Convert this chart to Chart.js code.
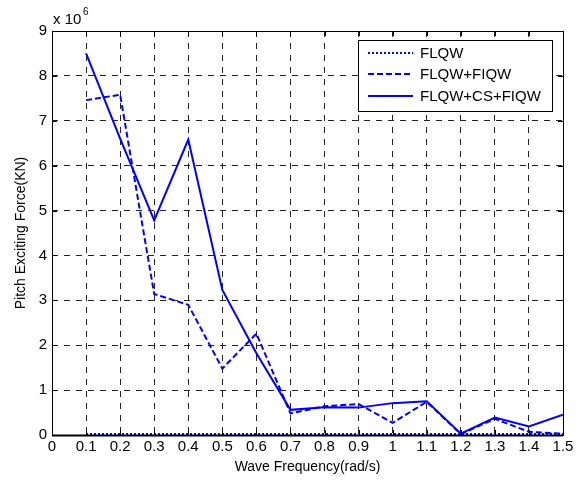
<!DOCTYPE html>
<html>
<head>
<meta charset="utf-8">
<script src="https://cdn.jsdelivr.net/npm/chart.js@4.4.0/dist/chart.umd.min.js"></script>
<style>
  html, body { margin: 0; padding: 0; background: #fff; }
  #wrap { width: 582px; height: 480px; position: relative; }
</style>
</head>
<body>
<div id="wrap"><canvas id="chart" width="582" height="480"></canvas></div>
<script>
// Wave frequency (rad/s)
const frequencies = [0.1, 0.2, 0.3, 0.4, 0.5, 0.6, 0.7, 0.8, 0.9, 1.0, 1.1, 1.2, 1.3, 1.4, 1.5];

// Pitch exciting force, in units of 10^6 KN
const flqw = [0.02, 0.02, 0.02, 0.02, 0.02, 0.02, 0.02, 0.02, 0.02, 0.02, 0.02, 0.02, 0.02, 0.02, 0.02];
const flqwFiqw = [7.46, 7.58, 3.14, 2.9, 1.48, 2.26, 0.48, 0.64, 0.69, 0.27, 0.74, 0.02, 0.36, 0.07, 0.03];
const flqwCsFiqw = [8.5, 6.6, 4.78, 6.58, 3.23, 1.82, 0.56, 0.62, 0.61, 0.71, 0.75, 0.03, 0.39, 0.19, 0.45];

const seriesNames = ['FLQW', 'FLQW+FIQW', 'FLQW+CS+FIQW'];
const seriesDash = [[2, 2], [6, 3], []];

const xTicks = [0, 0.1, 0.2, 0.3, 0.4, 0.5, 0.6, 0.7, 0.8, 0.9, 1, 1.1, 1.2, 1.3, 1.4, 1.5];
const yTicks = [0, 1, 2, 3, 4, 5, 6, 7, 8, 9];

const FONT = 'Arial, "Liberation Sans", sans-serif';
const BLUE = '#0000ff';

function pts(values) {
  return values.map((v, i) => ({ x: frequencies[i], y: v }));
}

// frame, inward ticks, y title, exponent label and legend box (MATLAB look)
const matlabFrame = {
  id: 'matlabFrame',
  afterDraw(chart) {
    const { ctx, chartArea: a, scales } = chart;
    ctx.save();
    ctx.strokeStyle = '#000';
    ctx.lineWidth = 1;
    ctx.setLineDash([]);
    ctx.beginPath();
    xTicks.forEach(t => {
      const x = Math.round(scales.x.getPixelForValue(t)) + 0.5;
      ctx.moveTo(x, a.bottom); ctx.lineTo(x, a.bottom - 5);
      ctx.moveTo(x, a.top); ctx.lineTo(x, a.top + 5);
    });
    yTicks.forEach(t => {
      const y = Math.round(scales.y.getPixelForValue(t)) + 0.5;
      ctx.moveTo(a.left, y); ctx.lineTo(a.left + 5, y);
      ctx.moveTo(a.right, y); ctx.lineTo(a.right - 5, y);
    });
    ctx.stroke();
    ctx.strokeRect(Math.round(a.left) + 0.5, Math.round(a.top) + 0.5,
      Math.round(a.right - a.left), Math.round(a.bottom - a.top));
    // bottom axis line is drawn a bit heavier in the reference
    ctx.lineWidth = 2;
    ctx.beginPath();
    ctx.moveTo(a.left, Math.round(a.bottom) + 0.5);
    ctx.lineTo(a.right, Math.round(a.bottom) + 0.5);
    ctx.stroke();

    // y axis title
    ctx.fillStyle = '#000';
    ctx.font = '14px ' + FONT;
    ctx.textAlign = 'center';
    ctx.textBaseline = 'middle';
    ctx.translate(21, (a.top + a.bottom) / 2);
    ctx.rotate(-Math.PI / 2);
    ctx.fillText('Pitch Exciting Force(KN)', 0, 0);
    ctx.setTransform(1, 0, 0, 1, 0, 0);

    // exponent label
    ctx.textBaseline = 'alphabetic';
    ctx.textAlign = 'left';
    ctx.font = '15px ' + FONT;
    ctx.fillText('x 10', a.left + 1, a.top - 7);
    ctx.font = '10px ' + FONT;
    ctx.fillText('6', a.left + 31, a.top - 16);

    // legend
    const lx = 358, ly = 40, lw = 194, lh = 71;
    ctx.fillStyle = '#fff';
    ctx.fillRect(lx, ly, lw, lh);
    ctx.lineWidth = 1;
    ctx.strokeStyle = '#000';
    ctx.strokeRect(lx + 0.5, ly + 0.5, lw, lh);
    const rows = [53, 74, 96];
    ctx.font = '15px ' + FONT;
    ctx.textBaseline = 'middle';
    seriesNames.forEach((name, i) => {
      ctx.strokeStyle = BLUE;
      ctx.lineWidth = 2;
      ctx.setLineDash(seriesDash[i]);
      ctx.beginPath();
      ctx.moveTo(368, rows[i]);
      ctx.lineTo(413, rows[i]);
      ctx.stroke();
      ctx.setLineDash([]);
      ctx.fillStyle = '#000';
      ctx.fillText(name, 420, rows[i] + 1);
    });
    ctx.restore();
  }
};

const seriesValues = [flqw, flqwFiqw, flqwCsFiqw];

new Chart(document.getElementById('chart'), {
  type: 'line',
  data: {
    datasets: seriesNames.map((name, i) => ({
      label: name,
      data: pts(seriesValues[i]),
      borderColor: BLUE,
      backgroundColor: BLUE,
      borderWidth: 2,
      borderDash: seriesDash[i],
      pointRadius: 0,
      tension: 0,
      fill: false
    }))
  },
  options: {
    responsive: false,
    animation: false,
    devicePixelRatio: 1,
    layout: { padding: { top: 31, right: 19, left: 0, bottom: 0 } },
    plugins: {
      legend: { display: false },
      tooltip: { enabled: false }
    },
    scales: {
      x: {
        type: 'linear',
        min: 0,
        max: 1.5,
        afterBuildTicks(scale) { scale.ticks = xTicks.map(v => ({ value: v })); },
        afterFit(scale) { scale.height = 45; },
        ticks: {
          color: '#000',
          font: { family: FONT, size: 15 },
          maxRotation: 0,
          autoSkip: false,
          padding: 3,
          callback: v => String(Math.round(v * 10) / 10)
        },
        grid: {
          color: '#222',
          lineWidth: 1,
          drawTicks: false
        },
        border: { display: false, dash: [6, 6] },
        title: {
          display: true,
          text: 'Wave Frequency(rad/s)',
          color: '#000',
          font: { family: FONT, size: 14 },
          padding: { top: 0, bottom: 4 }
        }
      },
      y: {
        type: 'linear',
        min: 0,
        max: 9,
        afterBuildTicks(scale) { scale.ticks = yTicks.map(v => ({ value: v })); },
        afterFit(scale) { scale.width = 52; },
        ticks: {
          color: '#000',
          font: { family: FONT, size: 15 },
          padding: 5
        },
        grid: {
          color: '#222',
          lineWidth: 1,
          drawTicks: false
        },
        border: { display: false, dash: [6, 6] },
        title: { display: false }
      }
    }
  },
  plugins: [matlabFrame]
});
</script>
</body>
</html>
